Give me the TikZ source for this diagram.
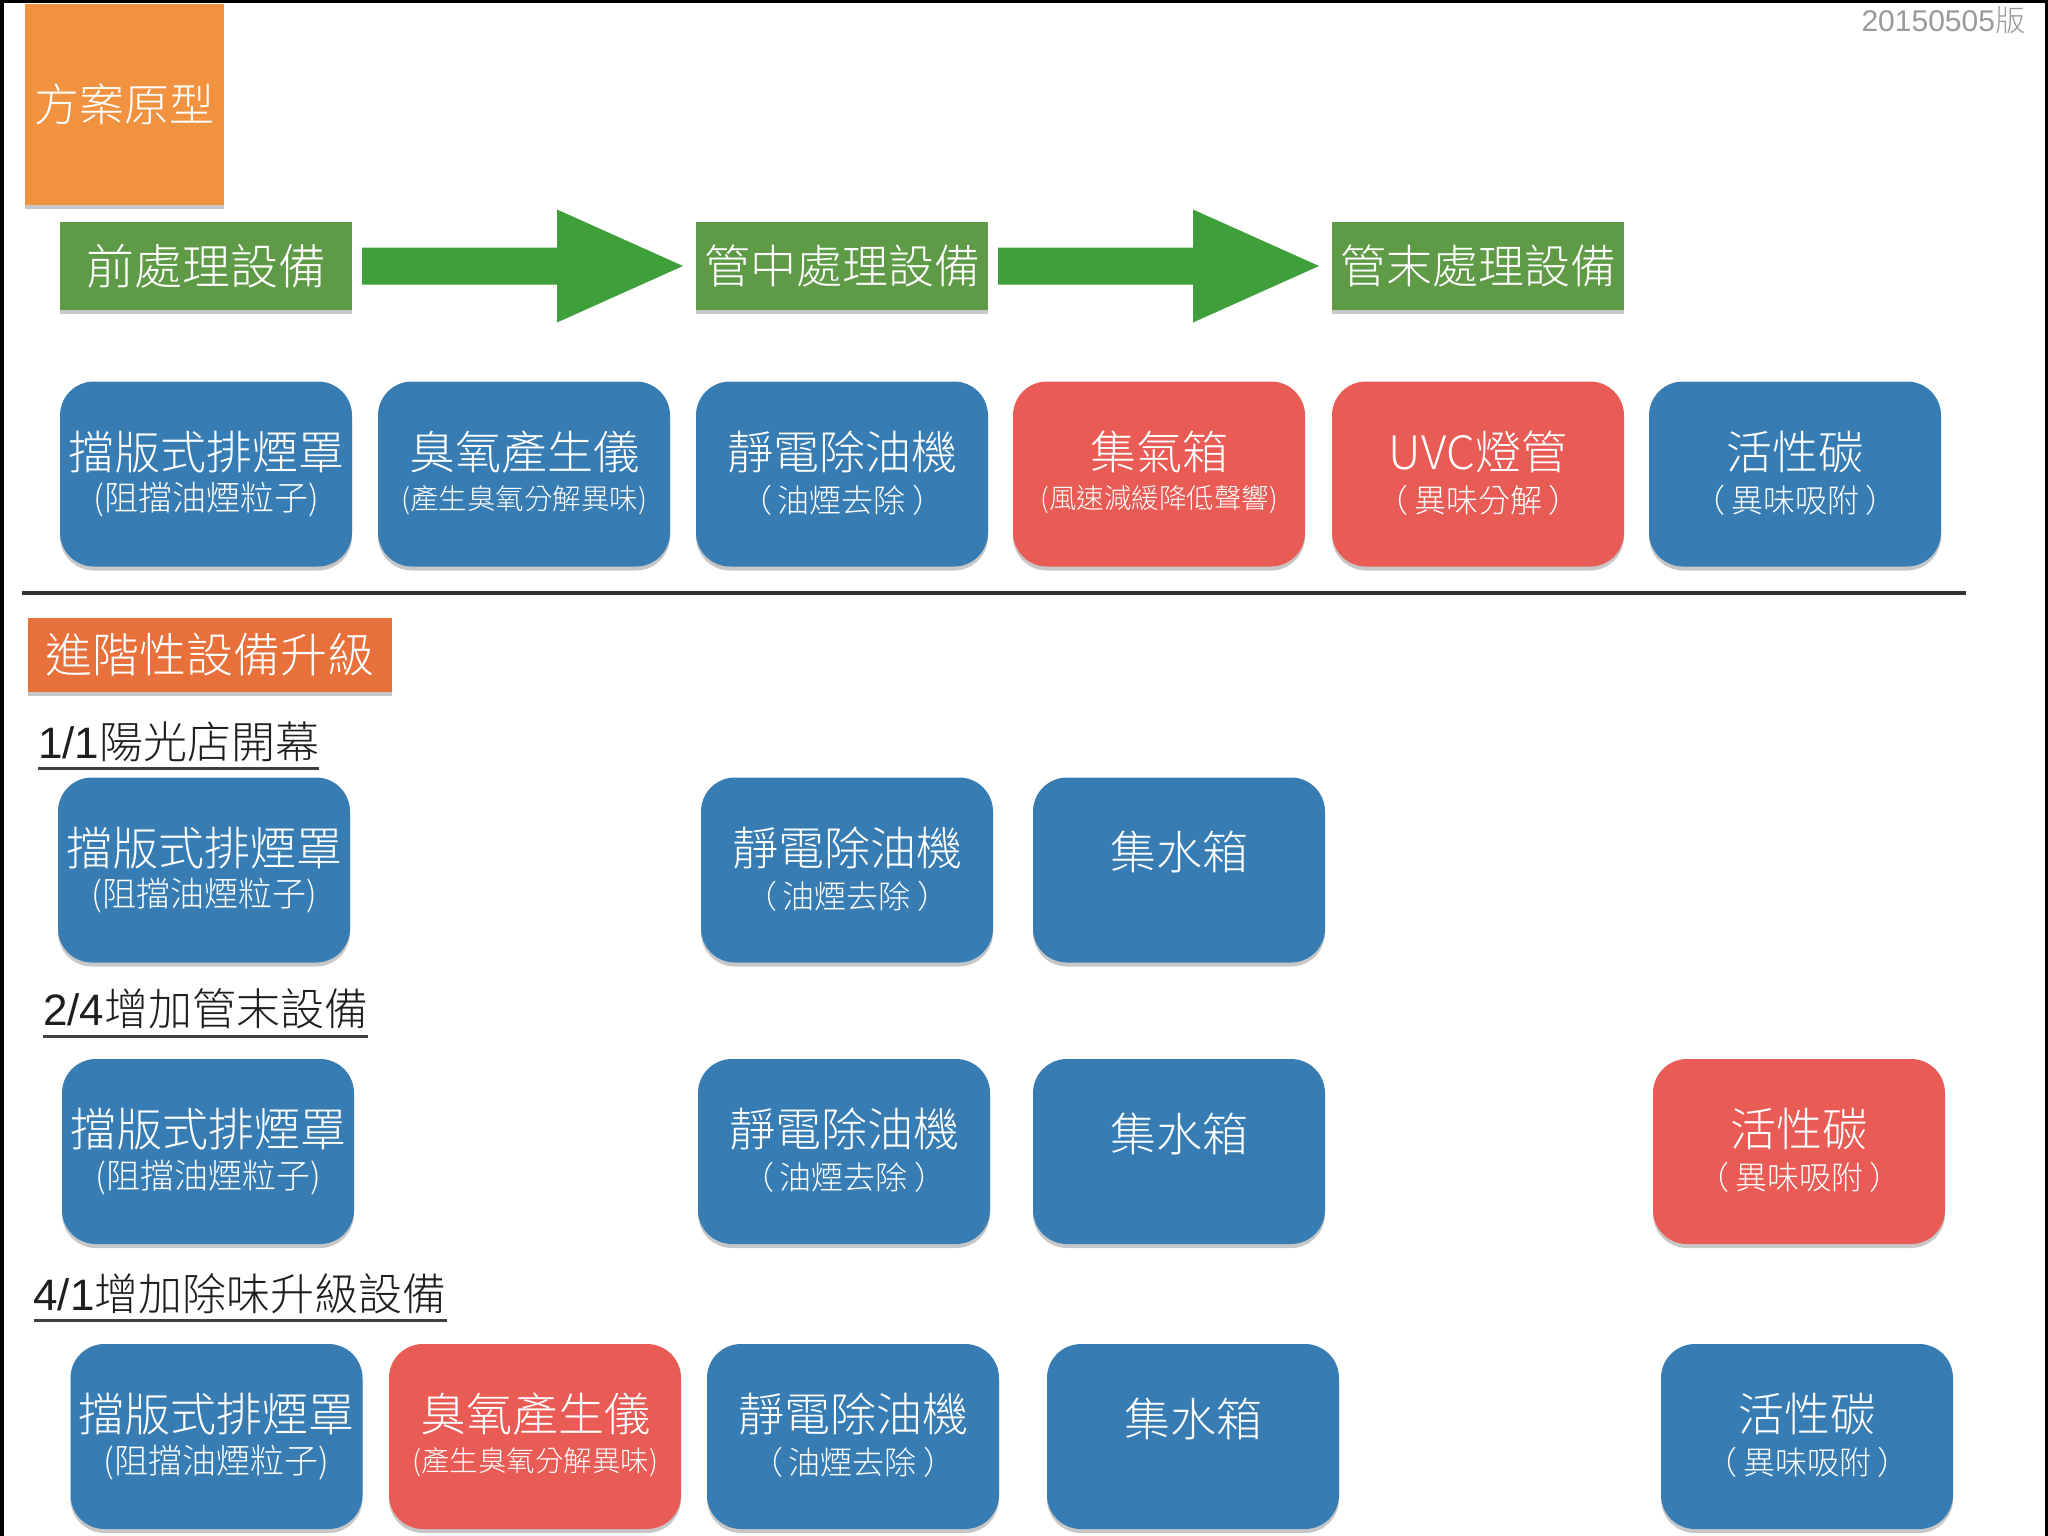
\documentclass[tikz,border=0pt]{standalone}
\usepackage{fontspec}
\setmainfont{Noto Sans CJK TC Light}
\newfontfamily\cjkf{Noto Sans CJK TC Light}
\newfontfamily\latf{Liberation Sans}
\usetikzlibrary{shadows,calc}
\definecolor{boxblue}{HTML}{377DB4}
\definecolor{boxred}{HTML}{E95B55}
\definecolor{boxgreen}{HTML}{5F9A47}
\definecolor{arrgreen}{HTML}{3F9F3B}
\definecolor{topor}{HTML}{F0923F}
\definecolor{secor}{HTML}{E8703A}
\definecolor{labeltext}{HTML}{1E1E1E}
\definecolor{vergray}{HTML}{9A9A9A}
\tikzset{
  base/.style={inner sep=0pt, outer sep=0pt},
  shad/.style={drop shadow={shadow xshift=0pt, shadow yshift=-4pt, opacity=0.22, fill=black}},
  dev/.style={base, rounded corners=34pt, minimum width=292pt, minimum height=185pt, shad},
  devblue/.style={dev, fill=boxblue},
  devred/.style={dev, fill=boxred},
  stagebox/.style={base, fill=boxgreen, minimum width=292pt, minimum height=88pt, shad, text=white, font=\fontsize{48}{56}\selectfont},
  mline/.style={base, text=white, font=\fontsize{46}{54}\selectfont},
  sline/.style={base, text=white, font=\fontsize{#1}{#1}\selectfont},
  lbl/.style={base, anchor=west, text=labeltext, font=\fontsize{44}{52}\selectfont},
  uline/.style={draw=black!75, line width=3pt},
  garrow/.style={fill=arrgreen},
}
\newcommand\fwp[1]{（\hspace{6pt}#1\hspace{6pt}）}
\newcommand\devtwo[6]{%
  \node[#2] (#1) at (#3) {};
  \node[mline] (#1a) at ($(#1.center)+(0,-22)$) {#4};
  \node[sline=#6] (#1b) at ($(#1.center)+(0,26)$) {#5};
}
\newcommand\devone[4]{%
  \node[#2] (#1) at (#3) {};
  \node[mline] (#1a) at ($(#1.center)+(0,-18)$) {#4};
}
\begin{document}
\begin{tikzpicture}[x=1pt,y=-1pt]
\useasboundingbox (0,0) rectangle (2048,1536);
\fill[black] (0,0) rectangle (2048,1536);
\fill[white] (3.5,3.5) rectangle (2044.5,1536);

% version
\node[base, anchor=north east, text=vergray, font=\latf\fontsize{30}{30}\selectfont] (ver) at (2025,7) {20150505{\cjkf 版}};

% title
\node[base, fill=topor, minimum width=199pt, minimum height=201pt, shad, text=white, font=\fontsize{45}{52}\selectfont] (title) at (124.4,104.3) {方案原型};

% stages
\node[stagebox] (g1) at (206,266) {前處理設備};
\node[stagebox, font=\fontsize{46}{54}\selectfont] (g2) at (842,266) {管中處理設備};
\node[stagebox, font=\fontsize{46}{54}\selectfont] (g3) at (1478,266) {管末處理設備};

\fill[garrow] ($(g1.east)+(10,-18.5)$) -- ($(g2.west)+(-139,-18.5)$) -- ($(g2.west)+(-139,-56.5)$) -- ($(g2.west)+(-13,0)$) -- ($(g2.west)+(-139,56.5)$) -- ($(g2.west)+(-139,18.5)$) -- ($(g1.east)+(10,18.5)$) -- cycle;
\fill[garrow] ($(g2.east)+(10,-18.5)$) -- ($(g3.west)+(-139,-18.5)$) -- ($(g3.west)+(-139,-56.5)$) -- ($(g3.west)+(-13,0)$) -- ($(g3.west)+(-139,56.5)$) -- ($(g3.west)+(-139,18.5)$) -- ($(g2.east)+(10,18.5)$) -- cycle;

% top row
\devtwo{t1}{devblue}{206,474}{擋版式排煙罩}{(阻擋油煙粒子)}{34}
\devtwo{t2}{devblue}{524,474}{臭氧產生儀}{(產生臭氧分解異味)}{28.5}
\devtwo{t3}{devblue}{842,474}{靜電除油機}{\fwp{油煙去除}}{32}
\devtwo{t4}{devred}{1159,474}{集氣箱}{(風速減緩降低聲響)}{27.5}
\devtwo{t5}{devred}{1478,474}{UVC燈管}{\fwp{異味分解}}{32}
\devtwo{t6}{devblue}{1795,474}{活性碳}{\fwp{異味吸附}}{32}

% divider
\draw[line width=4pt, draw=black!80] (21.5,593) -- (1966,593);

% section heading
\node[base, fill=secor, minimum width=364pt, minimum height=74pt, shad, text=white, font=\fontsize{47}{54}\selectfont] (adv) at (210,655) {進階性設備升級};

% stage 1
\node[lbl] (L1) at (38,741.5) {{\latf 1/1}陽光店開幕};
\draw[uline] ([yshift=-7pt]L1.south west) -- ([yshift=-7pt]L1.south east);
\devtwo{a1}{devblue}{204,870}{擋版式排煙罩}{(阻擋油煙粒子)}{34}
\devtwo{a3}{devblue}{847,870}{靜電除油機}{\fwp{油煙去除}}{32}
\devone{a4}{devblue}{1179,870}{集水箱}

% stage 2
\node[lbl] (L2) at (43,1009) {{\latf 2/4}增加管末設備};
\draw[uline] ([yshift=-7pt]L2.south west) -- ([yshift=-7pt]L2.south east);
\devtwo{b1}{devblue}{208,1151.5}{擋版式排煙罩}{(阻擋油煙粒子)}{34}
\devtwo{b3}{devblue}{844,1151.5}{靜電除油機}{\fwp{油煙去除}}{32}
\devone{b4}{devblue}{1179,1151.5}{集水箱}
\devtwo{b6}{devred}{1799,1151.5}{活性碳}{\fwp{異味吸附}}{32}

% stage 3
\node[lbl] (L3) at (33.5,1293.5) {{\latf 4/1}增加除味升級設備};
\draw[uline] ([yshift=-7pt]L3.south west) -- ([yshift=-7pt]L3.south east);
\devtwo{c1}{devblue}{216.5,1436.5}{擋版式排煙罩}{(阻擋油煙粒子)}{34}
\devtwo{c2}{devred}{535,1436.5}{臭氧產生儀}{(產生臭氧分解異味)}{28.5}
\devtwo{c3}{devblue}{853,1436.5}{靜電除油機}{\fwp{油煙去除}}{32}
\devone{c4}{devblue}{1193,1436.5}{集水箱}
\devtwo{c6}{devblue}{1807,1436.5}{活性碳}{\fwp{異味吸附}}{32}
\end{tikzpicture}
\end{document}
